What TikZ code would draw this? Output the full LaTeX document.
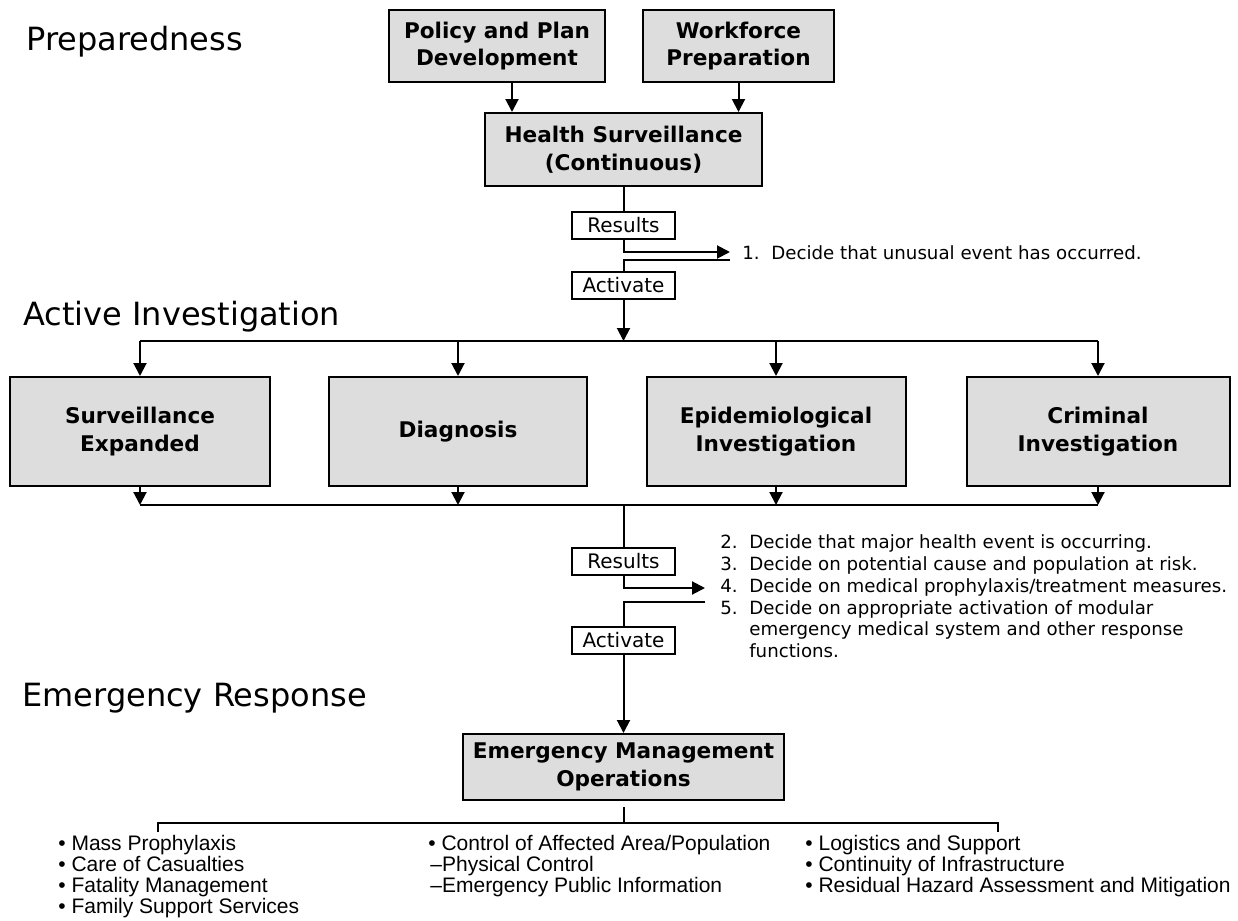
\documentclass[tikz,border=0pt]{standalone}
\usepackage{fontspec}
\setmainfont{DejaVu Sans}
\newfontfamily\narrowfont{Liberation Sans}
\usetikzlibrary{arrows.meta,calc}
\definecolor{boxgray}{RGB}{221,221,221}
\tikzset{
  stage/.style={anchor=base west, inner sep=0pt, font=\fontsize{16}{19}\selectfont},
  task/.style={draw, fill=boxgray, line width=1pt, align=center, inner sep=0pt,
    font=\fontsize{10.8}{13.8}\selectfont\bfseries},
  flag/.style={draw, line width=1pt, inner sep=0pt, minimum width=51.5pt,
    minimum height=13.5pt, font=\fontsize{10}{12}\selectfont},
  decide/.style={align=left, inner sep=0pt, font=\fontsize{9.1}{10.9}\selectfont},
  duty/.style={anchor=north west, align=left, inner sep=0pt,
    font=\narrowfont\fontsize{10.5}{10.5}\selectfont},
  link/.style={line width=1pt},
  flow/.style={line width=1pt, -{Triangle[length=6.5pt,width=6.5pt]}},
}

\begin{document}
\begin{tikzpicture}[x=0.5pt,y=-0.5pt]
\useasboundingbox (0,0) rectangle (1238,921);

% stage titles
\node[stage] (prep) at (26,50) {Preparedness};
\node[stage] (inv) at (23,325) {Active Investigation};
\node[stage] (resp) at (22,706) {Emergency Response};

% preparedness
\node[task, minimum width=108pt, minimum height=36pt] (policy) at (497,46) {Policy and Plan\\Development};
\node[task, minimum width=95.5pt, minimum height=36pt] (work) at (738.5,46) {Workforce\\Preparation};
\node[task, minimum width=138.5pt, minimum height=36.5pt] (health) at (623.5,149.5) {Health Surveillance\\(Continuous)};
\coordinate (pol) at ($(policy.south)+(15,0)$);
\draw[flow] (pol) -- (pol |- health.north);
\draw[flow] (work.south) -- (work.south |- health.north);

\node[flag] (res1) at (623.5,225) {Results};
\node[flag] (act1) at (623.5,285) {Activate};
\node[decide, anchor=west] (dec1) at (742,253) {1.\ \ Decide that unusual event has occurred.};
\coordinate (in1) at (730,252);
\coordinate (out1) at (730,260);
\draw[link] (health.south) -- (res1.north);
\draw[flow] (res1.south) |- (in1);
\draw[link] (out1) -| (act1.north);

% active investigation
\coordinate (fan) at (623.5,341);
\coordinate (join) at (623.5,505);
\node[task, minimum width=130pt, minimum height=54.5pt] (surv) at (140,431.5) {Surveillance\\Expanded};
\node[task, minimum width=129pt, minimum height=54.5pt] (diag) at (458,431.5) {Diagnosis};
\node[task, minimum width=129.5pt, minimum height=54.5pt] (epi) at (776,431.5) {Epidemiological\\Investigation};
\node[task, minimum width=131.5pt, minimum height=54.5pt] (crim) at (1098,431.5) {Criminal\\Investigation};
\draw[flow] (act1.south) -- (fan);
\draw[link] (surv.north |- fan) -- (crim.north |- fan);
\draw[link] (surv.south |- join) -- (crim.south |- join);
\foreach \b in {surv,diag,epi,crim}{
  \draw[flow] (\b.north |- fan) -- (\b.north);
  \draw[flow] (\b.south) -- (\b.south |- join);
}

\node[flag] (res2) at (623.5,561.5) {Results};
\node[flag] (act2) at (623.5,640) {Activate};
\node[decide, anchor=north west] (dec2) at (720,533) {\begin{tabular}{@{}l@{\ \ }l@{}}
2. & Decide that major health event is occurring.\\
3. & Decide on potential cause and population at risk.\\
4. & Decide on medical prophylaxis/treatment measures.\\
5. & Decide on appropriate activation of modular\\
   & emergency medical system and other response\\
   & functions.
\end{tabular}};
\coordinate (in2) at (705,588);
\coordinate (out2) at (705,602);
\draw[link] (join) -- (res2.north);
\draw[flow] (res2.south) |- (in2);
\draw[link] (out2) -| (act2.north);

% emergency response
\node[task, minimum width=160.5pt, minimum height=33pt] (emo) at (623.5,767) {Emergency Management\\Operations};
\draw[flow] (act2.south) -- (emo.north);

\coordinate (stub) at (623.5,807);
\coordinate (hub) at (623.5,823);
\coordinate (lt) at (158,832);
\coordinate (rt) at (998,832);
\draw[link] (stub) -- (hub);
\draw[link] (lt) -- (lt |- hub) -- (rt |- hub) -- (rt);

\node[duty] (col1) at (58,835) {• Mass Prophylaxis\\• Care of Casualties\\• Fatality Management\\• Family Support Services};
\node[duty] (col2) at (428,835) {• Control of Affected Area/Population\\\hspace*{1pt}–Physical Control\\\hspace*{1pt}–Emergency Public Information};
\node[duty] (col3) at (805,835) {• Logistics and Support\\• Continuity of Infrastructure\\• Residual Hazard Assessment and Mitigation};
\end{tikzpicture}
\end{document}
